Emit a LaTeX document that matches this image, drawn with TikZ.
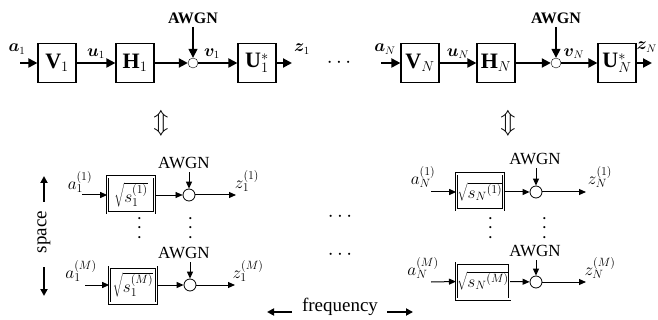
\documentclass[tikz,border=0pt]{standalone}
\usepackage{fontspec}
\setmainfont{Liberation Serif}
\usepackage{bm}
\usetikzlibrary{arrows.meta,positioning}

\begin{document}
\begin{tikzpicture}[x=1pt,y=1pt,
    blk/.style={draw,line width=1.2pt,minimum width=38pt,minimum height=39pt,
      inner sep=1pt,font=\fontsize{22}{24}\selectfont},
    sblk/.style={draw,double,double distance=1.6pt,line width=.7pt,
      minimum width=47pt,minimum height=36pt,inner sep=1pt,font=\fontsize{17}{19}\selectfont},
    adder/.style={draw,circle,fill=white,minimum size=10pt,inner sep=0pt},
    sadder/.style={adder,line width=.8pt,minimum size=12pt},
    arrow/.style={-{Triangle[length=9pt,width=9pt]},line width=2pt},
    sarrow/.style={-{Triangle[length=7pt,width=6pt]},line width=1pt},
    lbl/.style={font=\fontsize{16}{18}\selectfont},
    slbl/.style={font=\fontsize{17}{19}\selectfont},
    noise/.style={font=\fontsize{16}{18}\selectfont\bfseries},
    snoise/.style={font=\fontsize{17}{19}\selectfont},
    dots/.style={inner sep=0pt,font=\fontsize{22}{24}\selectfont},
    vdot/.style={dots,rotate=90},
    axis/.style={-{Triangle[length=7pt,width=7pt]},line width=2.4pt}]
    \useasboundingbox (0,0) rectangle (658,-320);
    % first carrier, MIMO form
    \node[blk] (V1) at (57,-63) {$\mathbf{V}_1$};
    \node[blk] (H1) at (135,-63) {$\mathbf{H}_1$};
    \node[adder] (c1) at (193,-63) {};
    \node[blk] (U1) at (257,-63) {$\mathbf{U}_1^*$};
    \node[noise] (n1) at (193,-18) {AWGN};
    \coordinate (a1in) at (20,-63);
    \coordinate (z1out) at (292,-63);
    \node[lbl] (a1) at (17,-49) {$\bm{a}_1$};
    \node[lbl] (z1) at (302,-49) {$\bm{z}_1$};
    \draw[arrow] (a1in)--(V1);
    \draw[arrow] (V1)--node[lbl,above] (u1) {$\bm{u}_1$}(H1);
    \draw[arrow] (H1)--(c1);
    \draw[arrow] (c1)--node[lbl,above,pos=.35] (v1) {$\bm{v}_1$}(U1);
    \draw[arrow] (U1)--(z1out);
    \draw[arrow,line width=1.6pt] (n1)--(c1);
    \node[dots] (hdots) at (339,-63) {$\cdots$};
    % last carrier, MIMO form
    \node[blk] (VN) at (420,-63) {$\mathbf{V}_N$};
    \node[blk] (HN) at (496,-63) {$\mathbf{H}_N$};
    \node[adder] (cN) at (556,-63) {};
    \node[blk] (UN) at (617,-63) {$\mathbf{U}_N^*$};
    \node[noise] (nN) at (556,-18) {AWGN};
    \coordinate (aNin) at (381,-63);
    \coordinate (zNout) at (652,-63);
    \node[lbl] (aN) at (385,-49) {$\bm{a}_N$};
    \node[lbl,anchor=east,inner sep=1pt] (zN) at (658,-47) {$\bm{z}_N$};
    \draw[arrow] (aNin)--(VN);
    \draw[arrow] (VN)--node[lbl,above] (uN) {$\bm{u}_N$}(HN);
    \draw[arrow] (HN)--(cN);
    \draw[arrow] (cN)--node[lbl,above,pos=.35] (vN) {$\bm{v}_N$}(UN);
    \draw[arrow] (UN)--(zNout);
    \draw[arrow,line width=1.6pt] (nN)--(cN);
    % equivalence
    \node[font=\fontsize{30}{32}\selectfont] (eq1) at (161,-123) {$\Updownarrow$};
    \node[font=\fontsize{30}{32}\selectfont] (eqN) at (508,-123) {$\Updownarrow$};
    % first carrier, parallel streams
    \node[sblk] (S11) at (131,-195) {$\sqrt{s_1^{(1)}}$};
    \node[sadder] (d11) at (189,-195) {};
    \node[snoise] (n11) at (184,-163) {AWGN};
    \coordinate (x11) at (82,-195);
    \coordinate (y11) at (236,-195);
    \node[slbl] (a11) at (80,-182) {$a_1^{(1)}$};
    \node[slbl] (z11) at (247,-181) {$z_1^{(1)}$};
    \draw[sarrow] (x11)--(S11);
    \draw[sarrow,line width=.6pt] (S11)--(d11);
    \draw[sarrow] (d11)--(y11);
    \draw[sarrow] (n11.south-|d11)--(d11);
    \node[vdot] (vd1a) at (140,-228) {$\cdots$};
    \node[vdot] (vd1b) at (191,-228) {$\cdots$};
    \node[sblk] (S1M) at (133,-285) {$\sqrt{s_1^{(M)}}$};
    \node[sadder] (d1M) at (190,-285) {};
    \node[snoise] (n1M) at (184,-253) {AWGN};
    \coordinate (x1M) at (85,-285);
    \coordinate (y1M) at (235,-285);
    \node[slbl] (a1M) at (81,-271) {$a_1^{(M)}$};
    \node[slbl] (z1M) at (248,-271) {$z_1^{(M)}$};
    \draw[sarrow] (x1M)--(S1M);
    \draw[sarrow] (S1M)--(d1M);
    \draw[sarrow] (d1M)--(y1M);
    \draw[sarrow] (n1M.south-|d1M)--(d1M);
    % dots between carriers
    \node[dots] (mdots1) at (340,-217) {$\cdots$};
    \node[dots] (mdots2) at (340,-255) {$\cdots$};
    % last carrier, parallel streams
    \node[sblk] (SN1) at (480,-192) {$\sqrt{{s_N}^{(1)}}$};
    \node[sadder] (dN1) at (536,-192) {};
    \node[snoise] (nN1) at (535,-159) {AWGN};
    \coordinate (xN1) at (431,-192);
    \coordinate (yN1) at (586,-192);
    \node[slbl] (aN1) at (423,-177) {$a_N^{(1)}$};
    \node[slbl] (zN1) at (600,-177) {$z_N^{(1)}$};
    \draw[sarrow] (xN1)--(SN1);
    \draw[sarrow] (SN1)--(dN1);
    \draw[sarrow] (dN1)--(yN1);
    \draw[sarrow] (nN1.south-|dN1)--(dN1);
    \node[vdot] (vdNa) at (491,-228) {$\cdots$};
    \node[vdot] (vdNb) at (545,-228) {$\cdots$};
    \node[sblk] (SNM) at (483,-281) {$\sqrt{{s_N}^{(M)}}$};
    \node[sadder] (dNM) at (536,-282) {};
    \node[snoise] (nNM) at (535,-251) {AWGN};
    \coordinate (xNM) at (431,-282);
    \coordinate (yNM) at (586,-282);
    \node[slbl] (aNM) at (423,-268) {$a_N^{(M)}$};
    \node[slbl] (zNM) at (600,-268) {$z_N^{(M)}$};
    \draw[sarrow] (xNM)--(SNM);
    \draw[sarrow] (SNM)--(dNM);
    \draw[sarrow] (dNM)--(yNM);
    \draw[sarrow] (nNM.south-|dNM)--(dNM);
    % axes
    \node[font=\fontsize{19}{21}\selectfont,rotate=90] (space) at (44,-232) {space};
    \coordinate (sp1) at (44,-202);
    \coordinate (sp2) at (44,-176);
    \coordinate (sp3) at (44,-267);
    \coordinate (sp4) at (44,-296);
    \draw[axis] (sp1)--(sp2);
    \draw[axis] (sp3)--(sp4);
    \node[font=\fontsize{19}{21}\selectfont] (freq) at (340,-307) {frequency};
    \coordinate (fr1) at (292,-312);
    \coordinate (fr2) at (267,-312);
    \coordinate (fr3) at (387,-312);
    \coordinate (fr4) at (413,-312);
    \draw[axis] (fr1)--(fr2);
    \draw[axis] (fr3)--(fr4);
  \end{tikzpicture}
\end{document}
